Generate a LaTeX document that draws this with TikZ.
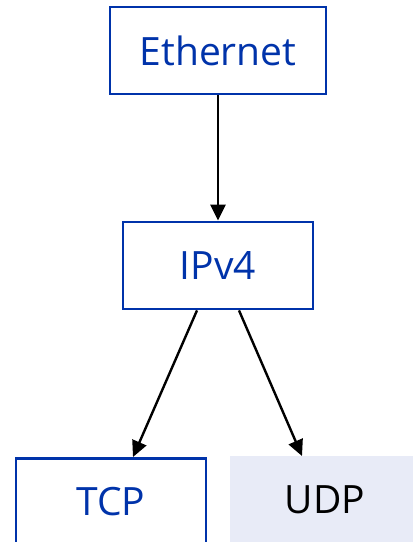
\documentclass[tikz,border=0pt]{standalone}
\usepackage{fontspec}
\setmainfont{Open Sans}
\usetikzlibrary{arrows.meta}
\definecolor{boxblue}{HTML}{0033AA}
\definecolor{udpfill}{HTML}{E8EBF7}
\tikzset{
  layer/.style={draw=boxblue, line width=2.8pt, fill=white, text=boxblue,
    minimum height=87pt, inner sep=0pt, font=\fontsize{39}{44}\selectfont},
  plainlayer/.style={draw=none, fill=udpfill, text=black,
    minimum height=87pt, inner sep=0pt, font=\fontsize{39}{44}\selectfont},
  link/.style={line width=2.4pt, -{Triangle[length=16pt,width=15pt]}}
}
\begin{document}
\begin{tikzpicture}[x=1pt,y=-1pt]
\useasboundingbox (0,0) rectangle (413,542);
\clip (0,0) rectangle (413,542);
\node[layer, minimum width=216pt] (eth) at (218,50.5) {Ethernet};
\node[layer, minimum width=190pt] (ip) at (218,265.5) {IPv4};
\node[layer, minimum width=190pt, anchor=north] (tcp) at (111,457) {TCP};
\node[plainlayer, minimum width=190pt, anchor=north] (udp) at (325,456) {UDP};
\draw[link] (eth.south) -- (ip.north);
\draw[link] ([xshift=-21pt]ip.south) -- ([xshift=22pt]tcp.north);
\draw[link] ([xshift=21pt]ip.south) -- ([xshift=-23pt]udp.north);
\end{tikzpicture}
\end{document}
